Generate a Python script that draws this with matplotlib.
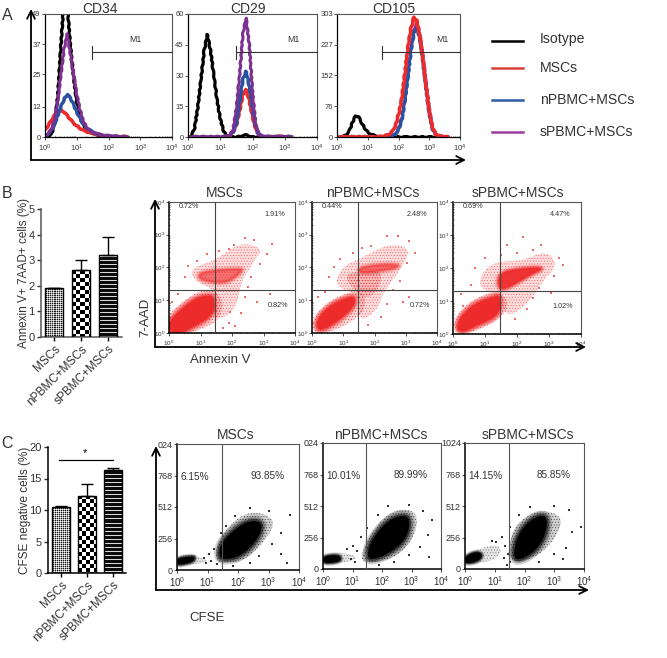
#Apoptosis y proliferacion de MSCs, figura compuesta
import numpy as np
import matplotlib
matplotlib.use('Agg')
import matplotlib.pyplot as plt
from matplotlib.colors import to_rgba

plt.rcParams['font.family'] = ['Liberation Sans', 'DejaVu Sans']
plt.rcParams['mathtext.default'] = 'regular'
plt.rcParams['hatch.linewidth'] = .35

W, H = 667, 658
TXT = '#333333'
RED = '#ee2b2b'

groups = ['MSCs', 'nPBMC+MSCs', 'sPBMC+MSCs']

#Panel A: histogramas (log10 intensidad, cuentas)
cd34_x = [0, .1, .2, .3, .4, .5, .6, .7, .8, .9, 1, 1.1, 1.2, 1.3, 1.4, 1.5, 1.6, 1.7, 1.8, 1.9, 2, 2.1, 2.2, 2.3, 2.4, 2.5, 2.6]
cd34_iso = [0, 0, 1, 5, 16, 36, 55, 53, 36, 24, 14, 8, 5, 3, 2, 1.5, 1, .6, .3, .2, .1, 0, 0, 0, 0, 0, 0]
cd34_msc = [3, 4.5, 6.5, 8.5, 10, 10.5, 10, 8.5, 7, 5.5, 4.5, 3.5, 2.8, 2.2, 1.8, 1.4, 1.1, .9, .7, .5, .4, .3, .3, .2, .1, .1, 0]
cd34_n = [.5, 1.2, 2.5, 5, 8.5, 12, 15, 17, 15.5, 13, 10, 7.5, 5.5, 3.8, 2.8, 2, 1.5, 1, .7, .5, .4, .3, .2, .1, .1, 0, 0]
cd34_s = [.5, 1.5, 3, 7, 14, 25, 35, 41, 33, 25, 17, 11, 6.5, 4, 2.5, 2, 1.5, 1, .7, .5, .4, .3, .2, .1, .1, 0, 0]

cd29_x = [0, .1, .2, .3, .4, .5, .6, .7, .8, .9, 1, 1.1, 1.2, 1.3, 1.4, 1.5, 1.6, 1.7, 1.8, 1.9, 2, 2.1, 2.2, 2.3, 2.4, 2.6, 2.9, 3.2]
cd29_iso = [0, .5, 4, 14, 28, 42, 50, 42, 30, 18, 9, 3, .5, 0, 0, 0, .3, .6, 1, .5, 0, 0, 0, 0, 0, 0, 0, 0]
cd29_msc = [0, 0, 0, 0, 0, 0, 0, 0, 0, 0, 0, 0, .2, .8, 2.5, 6, 13, 21, 23, 18, 10, 4, 1, .3, .1, .1, .3, 0]
cd29_n = [0, 0, 0, 0, 0, 0, 0, 0, 0, 0, 0, .1, .3, 1, 2.5, 7, 17, 28, 32, 25, 14, 5, 1.2, .4, .2, .1, .1, 0]
cd29_s = [0, 0, 0, 0, 0, 0, 0, 0, 0, 0, 0, .1, .3, 1, 4, 14, 30, 50, 58, 45, 22, 6, 1.5, .5, .2, .1, .1, 0]

cd105_x = [0, .2, .3, .4, .5, .6, .7, .8, .9, 1, 1.1, 1.2, 1.3, 1.4, 1.5, 1.6, 1.7, 1.8, 1.9, 2, 2.1, 2.2, 2.3, 2.4, 2.5, 2.6, 2.7, 2.8, 2.9, 3, 3.1, 3.2, 3.3, 3.4, 3.5, 3.6]
cd105_iso = [0, 1, 5, 15, 35, 52, 50, 35, 22, 12, 7, 4, 2, 1, .5, 0, 0, 0, 0, 0, 0, 0, 0, 0, 0, 0, 0, 0, 0, 0, 0, 0, 0, 0, 0, 0]
cd105_msc = [0, 0, 0, 0, 0, 0, 0, 0, 0, 0, 0, 0, 0, 1, 2, 4, 7, 14, 28, 55, 90, 150, 215, 265, 295, 285, 245, 190, 125, 65, 25, 8, 3, 1.5, .5, 0]
cd105_n = [0, 0, 0, 0, 0, 0, 0, 0, 0, 0, 0, 0, 0, 0, 0, 0, 1, 3, 7, 18, 40, 85, 145, 210, 255, 270, 240, 185, 120, 60, 22, 7, 2, 1, 0, 0]
cd105_s = [0, 0, 0, 0, 0, 0, 0, 0, 0, 0, 0, 0, 0, 0, 0, 0, 1, 3, 8, 20, 45, 90, 155, 220, 265, 280, 250, 190, 122, 60, 22, 7, 2, 1, 0, 0]

#Panel B: barras
b_vals = [1.9, 2.6, 3.2]
b_err = [0.03, 0.4, 0.7]
#Panel C: barras
c_vals = [10.4, 12.3, 16.4]
c_err = [0.3, 1.8, 0.2]

#Nubes de puntos leidas a ojo: contornos (log10 x, log10 y) y puntos sueltos
b1_low_core = [(0, 0), (0, .35), (.3, .65), (.6, .9), (.9, 1.08), (1.2, 1.15), (1.42, 1.12), (1.45, .7), (1.3, .5), (1, .3), (.6, .1), (.4, 0)]
b1_low_faint = [(0, 0), (0, .6), (.3, .85), (.7, 1.15), (1.1, 1.32), (1.5, 1.3), (1.75, .9), (1.55, .35), (1.1, .15), (.7, 0)]
b1_up_core = [(.93, 1.82), (1.4, 1.92), (2.25, 1.97), (2.36, 1.92), (1.94, 1.57), (1.56, 1.52), (.98, 1.62)]
b1_up_faint = [(.66, 1.97), (1.5, 2.23), (2.25, 2.78), (3, 2.58), (2.68, 2.18), (2.25, 1.47), (2.15, .76), (1.56, .35), (1.35, .76), (1.46, 1.32), (.82, 1.57)]
b1_dots = [(.6, 2.05), (.5, 1.7), (.9, 2.2), (1.2, 2.4), (1.6, 2.5), (2.4, 2.9), (2.7, 2.85), (3.28, 2.72), (3.1, 2.4), (2.9, 2.1), (2.6, 1.7), (2.5, 1.4), (2.4, 1.1), (2.3, .6), (1.9, .3), (2.1, .2), (1.7, .15), (3.2, 1.2), (2.8, .95), (1.9, 2.55), (2.05, 2.7), (.3, 1.2), (.1, .95), (1.95, .65)]

b2_low_core = [(.16, .08), (.16, .44), (.57, .84), (1, 1.04), (1.37, 1.14), (1.37, .84), (1, .49), (.46, .13)]
b2_low_faint = [(.03, 0), (.03, .49), (.57, .99), (1.32, 1.3), (1.74, 1.14), (1.64, .59), (.89, .13), (.4, 0)]
b2_up_core = [(1.5, 2), (2.17, 2.1), (2.8, 2.1), (2.7, 1.97), (2.06, 1.87), (1.53, 1.83)]
b2_up_faint = [(.67, 1.45), (1, 2.06), (1.53, 2.26), (2.5, 2.76), (3.19, 2.56), (2.81, 1.9), (2.28, 1.25), (2.06, .64), (1.48, .33), (1.58, 1.14)]
b2_mid = [(1, 1.75), (1.53, 1.9), (2.28, 1.9), (2.12, 1.3), (1.74, 1.04), (1.42, 1.25)]
b2_dots = [(.55, 1.7), (.7, 2), (.9, 2.25), (1.3, 2.45), (1.9, 2.65), (2.4, 2.95), (2.75, 2.95), (3.1, 2.8), (3.3, 2.45), (3.05, 2.15), (2.8, 1.6), (2.6, 1.3), (2.4, .9), (2.2, .5), (1.8, .25), (3.1, 1.1), (2.9, .95), (1.6, 2.6), (.2, 1.1), (.4, 1.25)]

b3_low_core = [(.12, .11), (.18, .46), (.64, .92), (1.37, 1.17), (1.47, 1.12), (1.47, .57), (.64, .21), (.33, .06)]
b3_low_faint = [(.07, 0), (.04, .52), (.64, 1.07), (1.37, 1.32), (1.78, .97), (1.52, .46), (.64, .06)]
b3_up_core = [(1.42, 1.83), (1.99, 1.98), (2.92, 2.03), (2.4, 1.78), (1.68, 1.37), (1.42, 1.37)]
b3_up_faint = [(.85, 1.78), (1.26, 2.18), (2.2, 2.23), (2.92, 2.54), (3.28, 2.08), (2.82, 1.63), (2.4, .97), (1.68, .46), (1.42, 1.17), (.85, 1.37)]
b3_dots = [(.55, 1.5), (.7, 2), (1, 2.3), (1.5, 2.4), (2, 2.45), (2.5, 2.55), (2.75, 2.7), (3.3, 2.3), (3.45, 2.1), (3.15, 1.75), (2.7, 1.4), (2.5, 1.1), (2.3, .75), (1.95, .45), (3.05, 1.25), (.25, 1.2), (.3, .85), (2.2, 2.95), (1.7, 2.7)]

c1_core = [(1.36, 122), (1.47, 231), (2.07, 367), (2.55, 408), (2.83, 367), (2.6, 231), (2.07, 109), (1.52, 82)]
c1_faint = [(1.25, 95), (1.36, 258), (2.07, 448), (2.72, 475), (3.26, 394), (2.83, 217), (2.17, 68), (1.41, 54)]
c1_left = [(0, 41), (0, 95), (.38, 109), (.6, 109), (.54, 68), (.22, 46)]
c1_tail = [(0, 35), (0, 105), (.45, 135), (.75, 100), (1.05, 75), (.7, 50), (.3, 42)]
c1_dots = [(.9, 100), (1.05, 130), (1.2, 170), (1.45, 300), (1.6, 360), (1.9, 440), (2.4, 500), (3, 480), (3.7, 450), (3.4, 300), (3.1, 210), (2.7, 110), (2.4, 60), (1.85, 30), (3.4, 130), (1.1, 70), (1.3, 45), (.95, 60), (3.6, 60)]

c2_core = [(1.49, 100), (1.61, 222), (2.14, 385), (2.67, 439), (2.96, 412), (2.85, 249), (2.26, 127), (1.67, 73)]
c2_faint = [(1.3, 60), (1.35, 150), (1.6, 280), (2.1, 430), (2.6, 490), (3.15, 470), (3.2, 340), (2.9, 190), (2.4, 90), (1.7, 50)]
c2_left = [(0, 50), (0, 100), (.35, 115), (.6, 105), (.6, 65), (.3, 48)]
c2_tail = [(0, 40), (0, 112), (.4, 135), (.9, 125), (1.2, 90), (.8, 55), (.3, 42)]
c2_dots = [(.8, 160), (1, 190), (1.15, 150), (1.3, 260), (1.5, 330), (1.85, 440), (2.2, 510), (2.9, 520), (3.4, 470), (3.7, 400), (3.55, 280), (3.3, 180), (2.9, 110), (2.4, 60), (1.9, 30), (3.6, 100), (.95, 80), (1.1, 55)]

c3_core = [(1.62, 103), (1.73, 251), (2.07, 373), (2.51, 440), (2.79, 413), (2.68, 251), (2.29, 130), (1.79, 68)]
c3_faint = [(1.45, 89), (1.56, 305), (1.96, 413), (2.51, 480), (3.24, 440), (3.18, 305), (2.63, 130), (1.84, 49)]
c3_left = [(0, 40), (0, 103), (.39, 143), (.61, 116), (.45, 62)]
c3_tail = [(0, 35), (0, 110), (.4, 155), (.75, 185), (1.1, 195), (1.25, 140), (1, 80), (.6, 50)]
c3_dots = [(1.05, 220), (1.25, 260), (1.35, 190), (1.45, 120), (1.3, 90), (1.5, 340), (1.8, 440), (2.2, 500), (3, 510), (3.5, 480), (3.9, 340), (3.6, 300), (3.4, 170), (3, 120), (2.5, 60), (3.3, 80), (.9, 230), (1.5, 60), (1.4, 30)]

#Marcas de texto del panel B y C
b_pct = [['0.72%', '1.91%', '0.82%'], ['0.44%', '2.48%', '0.72%'], ['0.69%', '4.47%', '1.02%']]
c_pct = [['6.15%', '93.85%'], ['10.01%', '89.99%'], ['14.15%', '85.85%']]
hist_titles = ['CD34', 'CD29', 'CD105']
hist_yticks = [[0, 12, 25, 37, 49], [0, 15, 30, 45, 60], [0, 76, 152, 227, 303]]


def px_axes(l, t, r, b):
    return fig.add_axes([l / W, 1 - b / H, (r - l) / W, (b - t) / H])


def log_axis(ax, size, axis='x'):
    if axis == 'x':
        ax.set_xscale('log')
        ax.set_xlim(1, 1e4)
        ax.set_xticks([1, 10, 100, 1000, 10000])
    else:
        ax.set_yscale('log')
        ax.set_ylim(1, 1e4)
        ax.set_yticks([1, 10, 100, 1000, 10000])
    ax.tick_params(axis=axis, which='major', labelsize=size, length=2, width=.6, pad=2, colors=TXT)
    ax.tick_params(axis=axis, which='minor', length=1, width=.4, direction='in', labelleft=False, labelbottom=False)


def frame(ax, heavy=1.1):
    for s in ['top', 'right']:
        ax.spines[s].set_color('#555555')
        ax.spines[s].set_linewidth(.8)
    for s in ['left', 'bottom']:
        ax.spines[s].set_color('black')
        ax.spines[s].set_linewidth(heavy)


def hist_line(ax, x, y, color, lw):
    line, = ax.plot(x, y, color=color, lw=lw)
    line.set_sketch_params(.45, 8, 2)


def rounded(poly, logy):
    #redondea el contorno leido (Chaikin), trabajando en decadas
    p = np.array(poly, dtype=float)
    if not logy:
        p[:, 1] = p[:, 1] / 256
    for _ in range(3):
        q = np.roll(p, -1, axis=0)
        p = np.column_stack([.75 * p + .25 * q, .25 * p + .75 * q]).reshape(-1, 2)
    return 10 ** p[:, 0], (10 ** p[:, 1] if logy else p[:, 1] * 256)


def solid(ax, poly, color, alpha=1, halo=4, logy=True):
    x, y = rounded(poly, logy)
    for lw, a in [(halo * 2, .18), (halo * 1.3, .3), (halo * .7, .5)]:
        ax.fill(x, y, facecolor='none', edgecolor=to_rgba(color, a * alpha), lw=lw, joinstyle='round', zorder=1.2)
    ax.fill(x, y, facecolor=to_rgba(color, alpha), edgecolor='none', zorder=1.3)


def stipple(ax, poly, color, alpha=.5, hatch='......', logy=True):
    #zona de puntos dispersos
    x, y = rounded(poly, logy)
    ax.fill(x, y, facecolor=to_rgba(color, alpha * .25), edgecolor=to_rgba(color, alpha), hatch=hatch, lw=0, zorder=1)


def dots(ax, pts, color, logy=True):
    p = np.array(pts, dtype=float)
    yy = 10 ** p[:, 1] if logy else p[:, 1]
    ax.scatter(10 ** p[:, 0], yy, s=1.2, c=color, marker='s', linewidths=0, zorder=2)


def pattern_bars(ax, bars):
    #relleno de cada barra con imshow recortado a la barra
    fig.canvas.draw()
    xl, yl = ax.get_xlim(), ax.get_ylim()
    for k, bar in enumerate(bars):
        x0, y0 = bar.get_x(), bar.get_y()
        x1, y1 = x0 + bar.get_width(), y0 + bar.get_height()
        (a, c), (e, d) = ax.transData.transform([(x0, y0), (x1, y1)])
        nx, ny = int(round(e - a)), int(round(d - c))
        yy, xx = np.mgrid[0:ny, 0:nx]
        if k == 0:
            img = (xx + yy) % 2 * .55 + .1
            img = np.where((xx % 2 == 0) & (yy % 2 == 0), 1.0, img)
        elif k == 1:
            img = ((xx // 4 + yy // 4) % 2).astype(float)
        else:
            img = np.where(yy % 4 == 1, .85, 0.05)
        im = ax.imshow(img, extent=(x0, x1, y0, y1), aspect='auto', cmap='gray', vmin=0, vmax=1, interpolation='nearest', zorder=2)
        im.set_clip_path(bar)
    ax.set_xlim(xl)
    ax.set_ylim(yl)


fig = plt.figure(figsize=(W / 100, H / 100), dpi=100)

#Panel A
boxes_a = [(45, 14, 172, 137), (188, 14, 317, 137), (337, 14, 460, 137)]
gates_a = [92, 236, 382]
m1_a = [135, 293, 442]
title_a = [100, 248, 394]
hist_x = [cd34_x, cd29_x, cd105_x]
hist_iso = [cd34_iso, cd29_iso, cd105_iso]
hist_msc = [cd34_msc, cd29_msc, cd105_msc]
hist_n = [cd34_n, cd29_n, cd105_n]
hist_s = [cd34_s, cd29_s, cd105_s]
for i in range(3):
    l, t, r, b = boxes_a[i]
    ax = px_axes(l, t, r, b)
    x = 10 ** np.array(hist_x[i])
    hist_line(ax, x, hist_iso[i], 'black', 2.3)
    if i == 2:
        hist_line(ax, x, hist_s[i], '#7f2f8f', 2.2)
        hist_line(ax, x, hist_n[i], '#2a52a3', 2.5)
        hist_line(ax, x, hist_msc[i], RED, 2.6)
    else:
        hist_line(ax, x, hist_msc[i], RED, 2.6)
        hist_line(ax, x, hist_n[i], '#2a52a3', 2.5)
        hist_line(ax, x, hist_s[i], '#7f2f8f', 2.2)
    log_axis(ax, 5.5)
    ax.set_ylim(0, hist_yticks[i][-1])
    ax.set_yticks(hist_yticks[i])
    ax.tick_params(axis='y', labelsize=5.5, length=2, width=.6, pad=1, colors=TXT)
    frame(ax, .9)

#Panel B barras
ax = px_axes(41, 209, 122, 337)
bars = ax.bar(range(3), b_vals, width=.68, color='white', edgecolor='none', zorder=1)
ax.set_xlim(-.48, 2.52)
ax.set_ylim(0, 5)
pattern_bars(ax, bars)
ax.bar(range(3), b_vals, width=.68, facecolor='none', edgecolor='black', lw=1, zorder=3)
ax.errorbar(range(3), b_vals, yerr=[[0, 0, 0], b_err], fmt='none', ecolor='black', elinewidth=1, capsize=4.5, capthick=1, zorder=4)
ax.spines[['top', 'right']].set_visible(False)
ax.spines[['left', 'bottom']].set_color('#555555')
ax.spines[['left', 'bottom']].set_linewidth(1.1)
ax.set_xticks(range(3))
ax.set_xticklabels(groups, rotation=45, ha='right', rotation_mode='anchor', fontsize=8.5, color=TXT)
ax.set_yticks(range(6))
ax.tick_params(axis='y', labelsize=8, length=3, width=1, pad=1.5, colors=TXT)
ax.tick_params(axis='x', length=3, width=1, pad=1.5)
ax.set_ylabel('Annexin V+ 7AAD+ cells (%)', fontsize=8.5, color=TXT, labelpad=-1)

#Panel C barras
ax = px_axes(48, 447, 126, 573)
bars = ax.bar(range(3), c_vals, width=.69, color='white', edgecolor='none', zorder=1)
ax.set_xlim(-.5, 2.5)
ax.set_ylim(0, 20)
pattern_bars(ax, bars)
ax.bar(range(3), c_vals, width=.69, facecolor='none', edgecolor='black', lw=1, zorder=3)
ax.errorbar(range(3), c_vals, yerr=[[0, 0, 0], c_err], fmt='none', ecolor='black', elinewidth=1, capsize=4.5, capthick=1, zorder=4)
ax.spines[['top', 'right']].set_visible(False)
ax.spines[['left', 'bottom']].set_linewidth(1.1)
ax.set_xticks(range(3))
ax.set_xticklabels(groups, rotation=45, ha='right', rotation_mode='anchor', fontsize=8.5, color=TXT)
ax.set_yticks([0, 5, 10, 15, 20])
ax.tick_params(axis='y', labelsize=8, length=3, width=1, pad=1.5, colors=TXT)
ax.tick_params(axis='x', length=3, width=1, pad=1.5)
ax.set_ylabel('CFSE negative cells (%)', fontsize=8.5, color=TXT, labelpad=-1)

#Panel B citometria
boxes_b = [(169, 202, 295, 333), (312, 202, 437, 333), (453, 202, 581, 334)]
quad_b = [(215, 290), (358, 290), (500, 291)]
lows_b = [(b1_low_faint, b1_low_core), (b2_low_faint, b2_low_core), (b3_low_faint, b3_low_core)]
ups_b = [(b1_up_faint, b1_up_core), (b2_up_faint, b2_up_core), (b3_up_faint, b3_up_core)]
dots_b = [b1_dots, b2_dots, b3_dots]
for i in range(3):
    l, t, r, b = boxes_b[i]
    ax = px_axes(l, t, r, b)
    log_axis(ax, 4.5)
    log_axis(ax, 4.5, 'y')
    ax.tick_params(axis='y', which='major', pad=1)
    stipple(ax, ups_b[i][0], RED, .65)
    if i == 1:
        stipple(ax, b2_mid, RED, .8)
    stipple(ax, lows_b[i][0], RED, .8)
    solid(ax, lows_b[i][1], RED, halo=3)
    solid(ax, ups_b[i][1], RED, alpha=.6 if i < 2 else .95, halo=2.5)
    dots(ax, dots_b[i], '#f26a6a')
    qx = (quad_b[i][0] - l) / (r - l)
    qy = (b - quad_b[i][1]) / (b - t)
    ax.axvline(10 ** (qx * 4), color='#444444', lw=.8, zorder=3)
    ax.axhline(10 ** (qy * 4), color='#444444', lw=.8, zorder=3)
    ax.text(.08, .965, b_pct[i][0], transform=ax.transAxes, fontsize=5.2, color=TXT, va='center')
    ax.text(.76, .905, b_pct[i][1], transform=ax.transAxes, fontsize=5.2, color=TXT, va='center')
    ax.text(.78, .21, b_pct[i][2], transform=ax.transAxes, fontsize=5.2, color=TXT, va='center')
    frame(ax)

#Panel C citometria
boxes_c = [(177, 444, 299, 570), (323, 443, 441, 569), (465, 443, 584, 569)]
quad_c = [222, 366, 509]
core_c = [c1_core, c2_core, c3_core]
faint_c = [c1_faint, c2_faint, c3_faint]
left_c = [c1_left, c2_left, c3_left]
tail_c = [c1_tail, c2_tail, c3_tail]
dots_c = [c1_dots, c2_dots, c3_dots]
top_label = ['024', '024', '1024']
for i in range(3):
    l, t, r, b = boxes_c[i]
    ax = px_axes(l, t, r, b)
    log_axis(ax, 7)
    ax.set_ylim(0, 1024)
    ax.set_yticks([0, 256, 512, 768, 1024])
    ax.set_yticklabels(['0', '256', '512', '768', top_label[i]])
    ax.tick_params(axis='y', labelsize=6.5, length=2, width=.6, pad=1, colors=TXT)
    stipple(ax, faint_c[i], '#222222', .8, logy=False)
    stipple(ax, tail_c[i], '#222222', .5, logy=False)
    solid(ax, core_c[i], 'black', halo=4, logy=False)
    solid(ax, left_c[i], 'black', halo=2, logy=False)
    dots(ax, dots_c[i], '#333333', logy=False)
    ax.axvline(10 ** ((quad_c[i] - l) / (r - l) * 4), color='#555555', lw=.8, zorder=3)
    ax.text(.025, .735, c_pct[i][0], transform=ax.transAxes, fontsize=7.2, color=TXT, va='center')
    ax.text(.6, .745, c_pct[i][1], transform=ax.transAxes, fontsize=7.2, color=TXT, va='center')
    frame(ax)

#Capa de textos y flechas en coordenadas de pixel
ov = fig.add_axes([0, 0, 1, 1], zorder=10)
ov.set_xlim(0, W)
ov.set_ylim(H, 0)
ov.axis('off')
ov.patch.set_alpha(0)


def arrow(x0, y0, x1, y1):
    ov.annotate('', xy=(x1, y1), xytext=(x0, y0), arrowprops=dict(arrowstyle='->', color='black', lw=1.3, mutation_scale=14, shrinkA=0, shrinkB=0))


arrow(31, 160, 31, 9)
arrow(31, 160, 466, 160)
arrow(155, 347, 155, 199)
arrow(155, 347, 586, 347)
arrow(156, 590, 156, 446)
arrow(156, 590, 589, 590)

for i in range(3):
    l, t, r, b = boxes_a[i]
    ov.text(title_a[i], 9, hist_titles[i], fontsize=10, color=TXT, ha='center', va='center')
    ov.plot([gates_a[i], r], [52, 52], color='#333333', lw=.8)
    ov.plot([gates_a[i], gates_a[i]], [46, 59], color='#333333', lw=.8)
    ov.text(m1_a[i], 40, 'M1', fontsize=6.3, color=TXT, ha='center', va='center')

centers_b = [225, 373, 518]
centers_c = [236, 381, 528]
for i in range(3):
    ov.text(centers_b[i], 193, groups[i], fontsize=10, color=TXT, ha='center', va='center')
    ov.text(centers_c[i], 435, groups[i], fontsize=10, color=TXT, ha='center', va='center')

ov.text(2, 16, 'A', fontsize=11.5, color=TXT, va='center')
ov.text(2, 194, 'B', fontsize=11.5, color=TXT, va='center')
ov.text(1, 444, 'C', fontsize=11.5, color=TXT, va='center')
ov.text(145, 317, '7-AAD', fontsize=9.5, color=TXT, rotation=90, ha='center', va='center')
ov.text(220, 360, 'Annexin V', fontsize=9.5, color=TXT, ha='center', va='center')
ov.text(207, 618, 'CFSE', fontsize=9.5, color=TXT, ha='center', va='center')

ov.plot([59, 113], [459.5, 459.5], color='black', lw=.9)
ov.text(85, 453, '*', fontsize=8, color='black', ha='center', va='center')

legend_y = [41, 68, 100, 132]
legend_ty = [39, 68, 100, 132]
legend_c = ['black', '#d9413a', '#2f5ca8', '#9a3d9e']
legend_t = ['Isotype', 'MSCs', 'nPBMC+MSCs', 'sPBMC+MSCs']
for yy, ty, cc, tt in zip(legend_y, legend_ty, legend_c, legend_t):
    ov.plot([492, 523], [yy, yy], color=cc, lw=1.8)
    ov.text(540, ty, tt, fontsize=10.1, color=TXT, va='center')

fig.savefig('out.png', dpi=100)
